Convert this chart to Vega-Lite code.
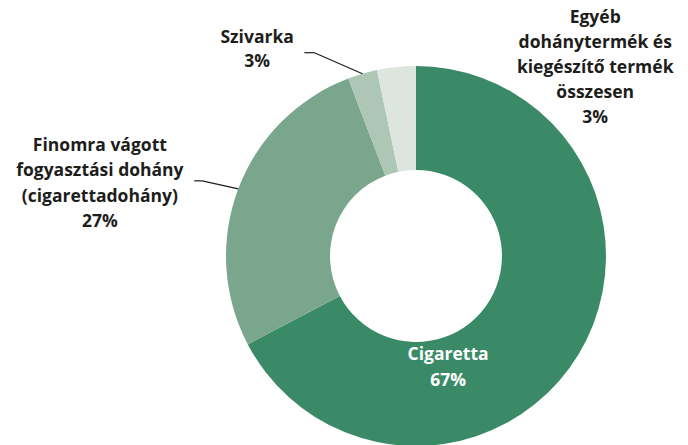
{
  "$schema": "https://vega.github.io/schema/vega-lite/v6.json",
  "autosize": {"type": "none"},
  "padding": {"left": 144, "top": 67, "right": 0, "bottom": 0},
  "width": 544,
  "height": 378,
  "background": "white",
  "config": {"view": {"stroke": null}},
  "data": {
    "values": [
      {"idx": 1, "cat": "Cigaretta", "value": 67.3, "label": "Cigaretta\n67%"},
      {"idx": 2, "cat": "Finomra vágott fogyasztási dohány", "value": 26.9, "label": "Finomra vágott\nfogyasztási dohány\n(cigarettadohány)\n27%"},
      {"idx": 3, "cat": "Szivarka", "value": 2.5, "label": "Szivarka\n3%"},
      {"idx": 4, "cat": "Egyéb", "value": 3.3, "label": "Egyéb\ndohánytermék és\nkiegészítő termék\nösszesen\n3%"}
    ]
  },
  "transform": [
    {"stack": "value", "groupby": [], "sort": [{"field": "idx", "order": "ascending"}], "as": ["v0", "v1"]},
    {"calculate": "(datum.v0 + datum.v1) / 2", "as": "mid"},
    {"calculate": "2 * PI * datum.mid / 100", "as": "a"},
    {"calculate": "190 * sin(datum.a)", "as": "ox"},
    {"calculate": "190 * cos(datum.a)", "as": "oy"},
    {"calculate": "datum.ox + (datum.cat === 'Szivarka' ? -48 : -36)", "as": "ex"},
    {"calculate": "datum.oy + (datum.cat === 'Szivarka' ? 21 : 8)", "as": "ey"},
    {"calculate": "datum.ex + (datum.cat === 'Szivarka' ? -10 : -8)", "as": "tx"}
  ],
  "layer": [
    {
      "mark": {"type": "arc", "outerRadius": 190, "innerRadius": 86},
      "encoding": {
        "theta": {"field": "v0", "type": "quantitative", "stack": null, "scale": {"domain": [0, 100]}},
        "theta2": {"field": "v1"},
        "color": {
          "field": "cat", "type": "nominal", "legend": null,
          "scale": {
            "domain": ["Cigaretta", "Finomra vágott fogyasztási dohány", "Szivarka", "Egyéb"],
            "range": ["#3a8a67", "#7ba68e", "#adc6b5", "#dde5df"]
          }
        }
      }
    },
    {
      "transform": [{"filter": "datum.cat === 'Szivarka' || datum.cat === 'Finomra vágott fogyasztási dohány'"}],
      "mark": {"type": "rule", "color": "#1d1d1b", "strokeWidth": 1.2},
      "encoding": {
        "x": {"field": "ox", "type": "quantitative", "axis": null, "scale": {"domain": [-272, 272], "nice": false, "zero": false}},
        "y": {"field": "oy", "type": "quantitative", "axis": null, "scale": {"domain": [-189, 189], "nice": false, "zero": false}},
        "x2": {"field": "ex"},
        "y2": {"field": "ey"}
      }
    },
    {
      "transform": [{"filter": "datum.cat === 'Szivarka' || datum.cat === 'Finomra vágott fogyasztási dohány'"}],
      "mark": {"type": "rule", "color": "#1d1d1b", "strokeWidth": 1.2},
      "encoding": {
        "x": {"field": "ex", "type": "quantitative", "axis": null, "scale": {"domain": [-272, 272], "nice": false, "zero": false}},
        "y": {"field": "ey", "type": "quantitative", "axis": null, "scale": {"domain": [-189, 189], "nice": false, "zero": false}},
        "x2": {"field": "tx"}
      }
    },
    {
      "transform": [{"filter": "datum.cat === 'Cigaretta'"}],
      "mark": {"type": "text", "radius": 138, "dx": -86, "dy": 28, "font": "Open Sans", "fontWeight": "bold", "fontSize": 17.5, "lineHeight": 25.5, "lineBreak": "\n", "align": "center", "baseline": "middle", "color": "white"},
      "encoding": {
        "theta": {"field": "mid", "type": "quantitative", "stack": null, "scale": {"domain": [0, 100]}},
        "text": {"field": "label"}
      }
    },
    {
      "transform": [{"filter": "datum.cat === 'Finomra vágott fogyasztási dohány'"}],
      "mark": {"type": "text", "radius": 230, "dx": -101, "dy": -29, "font": "Open Sans", "fontWeight": "bold", "fontSize": 17.5, "lineHeight": 25.5, "lineBreak": "\n", "align": "center", "baseline": "middle", "color": "#1d1d1b"},
      "encoding": {
        "theta": {"field": "mid", "type": "quantitative", "stack": null, "scale": {"domain": [0, 100]}},
        "text": {"field": "label"}
      }
    },
    {
      "transform": [{"filter": "datum.cat === 'Szivarka'"}],
      "mark": {"type": "text", "radius": 230, "dx": -94, "dy": 3, "font": "Open Sans", "fontWeight": "bold", "fontSize": 17.5, "lineHeight": 24, "lineBreak": "\n", "align": "center", "baseline": "middle", "color": "#1d1d1b"},
      "encoding": {
        "theta": {"field": "mid", "type": "quantitative", "stack": null, "scale": {"domain": [0, 100]}},
        "text": {"field": "label"}
      }
    },
    {
      "transform": [{"filter": "datum.cat === 'Egyéb'"}],
      "mark": {"type": "text", "radius": 230, "dx": 203, "dy": -9, "font": "Open Sans", "fontWeight": "bold", "fontSize": 17.5, "lineHeight": 25, "lineBreak": "\n", "align": "center", "baseline": "middle", "color": "#1d1d1b"},
      "encoding": {
        "theta": {"field": "mid", "type": "quantitative", "stack": null, "scale": {"domain": [0, 100]}},
        "text": {"field": "label"}
      }
    }
  ]
}
